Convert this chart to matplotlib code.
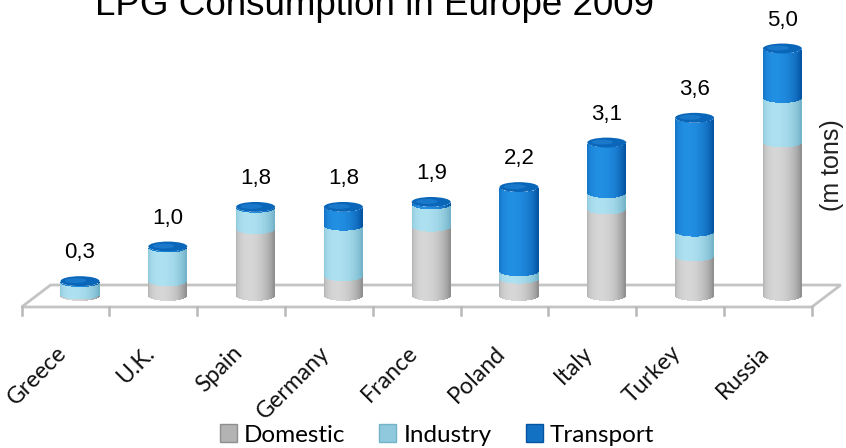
import numpy as np
import matplotlib
matplotlib.use("Agg")
import matplotlib.pyplot as plt
from matplotlib.patches import Ellipse, Polygon, Patch

countries = ["Greece", "U.K.", "Spain", "Germany", "France", "Poland", "Italy", "Turkey", "Russia"]
domestic = [0.03, 0.30, 1.35, 0.40, 1.40, 0.35, 1.75, 0.80, 3.10]
industry = [0.25, 0.68, 0.43, 1.02, 0.45, 0.15, 0.33, 0.50, 0.90]
transport = [0.02, 0.02, 0.02, 0.38, 0.05, 1.70, 1.02, 2.30, 1.00]
series_names = ["Domestic", "Industry", "Transport"]

# light / dark shade for each series (cylinder shading)
light = [(0.84, 0.84, 0.84), (0.68, 0.88, 0.94), (0.13, 0.56, 0.89)]
dark = [(0.56, 0.56, 0.56), (0.45, 0.70, 0.79), (0.02, 0.33, 0.64)]
cap_col = (0.04, 0.40, 0.72)

fig = plt.figure(figsize=(8.46, 4.48), dpi=100)
W, H = 846, 448
ax = fig.add_axes([36.1 / W, 152 / H, 790.2 / W, 277.2 / H])
ax.set_xlim(-0.5, len(countries) - 0.5)
ax.set_ylim(0, 5.6)
ax.axis("off")

n = len(countries)
dx, dy = 0.165, 0.222
floor = Polygon([(-0.5 - dx, -dy), (n - 0.5 - dx, -dy), (n - 0.5 + dx, dy), (-0.5 + dx, dy)],
                closed=True, facecolor="white", edgecolor="#c4c4c4", lw=2, clip_on=False, zorder=1)
ax.add_patch(floor)
for i in range(n + 1):
    ax.plot([i - 0.5 - dx] * 2, [-dy, -dy - 0.17], color="#b8b8b8", lw=1.8, clip_on=False, zorder=1)

bw = 0.444   # bar width (category units)
eh = 0.20    # ellipse height (value units)
N = 40
u = np.linspace(-1, 1, N + 1)
u = (u[:-1] + u[1:]) / 2
arc = eh / 2 * np.sqrt(1 - u ** 2)
t = np.clip(np.cos(np.arcsin(u) + 0.35), 0, 1)

data = np.array([domestic, industry, transport])
for i in range(n):
    x = i + u * bw / 2
    base = 0.0
    for s in range(3):
        v = data[s, i]
        cols = [tuple(np.array(dark[s]) + (np.array(light[s]) - np.array(dark[s])) * tt) for tt in t]
        ax.bar(x, v, width=bw / N * 1.05, bottom=base - arc, color=cols, lw=0, clip_on=False, zorder=2 + i)
        base += v
    ax.add_patch(Ellipse((i, base), bw, eh, facecolor=cap_col, edgecolor="none", clip_on=False, zorder=2 + i))
    ax.add_patch(Ellipse((i - 0.05, base + 0.01), bw * 0.55, eh * 0.5, facecolor=(0.15, 0.52, 0.85),
                         edgecolor="none", alpha=0.6, clip_on=False, zorder=2 + i))
    ax.text(i, base + 0.57, ("%.1f" % base).replace(".", ","), ha="center", va="center",
            fontsize=16, family="Liberation Sans", zorder=20)
    ax.text(i - 0.11, -0.93, countries[i], rotation=45, ha="right", va="top",
            fontsize=16.7, family="Lato", color="#111111")

fig.text(374 / W, 1 - 15 / H, "LPG Consumption in Europe 2009", ha="center", va="baseline",
         fontsize=26.5, family="Liberation Sans")
fig.text(832 / W, 1 - 165 / H, "(m tons)", rotation=90, ha="center", va="center",
         fontsize=18, family="Liberation Sans", color="#222222")

handles = [Patch(facecolor=tuple((np.array(light[s]) + np.array(dark[s])) / 2), edgecolor=dark[s])
           for s in range(3)]
fig.legend(handles, series_names, loc="center", bbox_to_anchor=(437 / W, 1 - 435 / H), ncol=3,
           frameon=False, prop={"family": "Lato", "size": 17.5}, handlelength=0.7, handleheight=0.7,
           handletextpad=0.3, columnspacing=1.4, borderpad=0)

fig.savefig("out.png", dpi=100)
